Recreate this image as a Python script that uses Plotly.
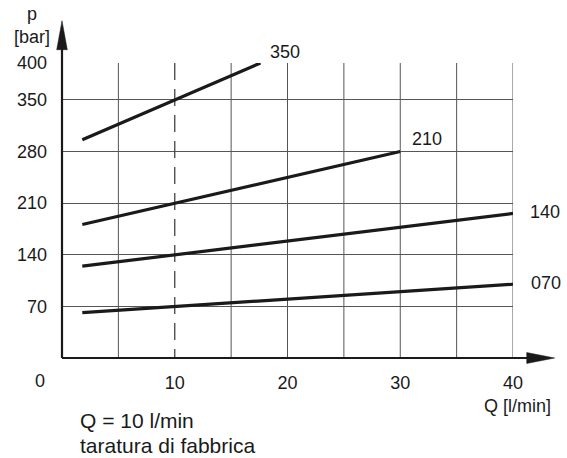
import plotly.graph_objects as go

# ---- data ----
SERIES_NAMES = ["070", "140", "210", "350"]
SERIES_Q = [[1.8, 40.0], [1.8, 40.0], [1.8, 30.0], [1.8, 17.6]]
SERIES_P = [[61.5, 100.0], [124.5, 196.0], [181.0, 280.0], [296.0, 400.0]]

SETTING_Q = 10          # factory setting flow (dashed line)
P_MAX = 400

Y_TICKS = [70, 140, 210, 280, 350, 400]
Y_TICK_TEXT = ["70", "140", "210", "280", "350", "400"]
X_TICKS = [10, 20, 30, 40]
X_TICK_TEXT = ["10", "20", "30", "40"]
X_GRID = [5, 15, 20, 25, 30, 35, 40]

NOTE_LINES = ["Q = 10 l/min", "taratura di fabbrica"]

# label offsets (pixels) per series
LABEL_SHIFT = {"070": (16, 1), "140": (15, 1), "210": (10, 13), "350": (8, 11)}

FONT = "Liberation Sans, Arial, sans-serif"
INK = "#1a1a1a"
GRID = "#555555"
FS = 18

fig = go.Figure()

# dashed factory-setting line
fig.add_trace(go.Scatter(x=[SETTING_Q, SETTING_Q], y=[P_MAX, 0], mode="lines",
                         line=dict(color="#444444", width=1.3, dash="17px,9px"),
                         hoverinfo="skip"))

for name, q, p in zip(SERIES_NAMES, SERIES_Q, SERIES_P):
    fig.add_trace(go.Scatter(x=q, y=p, mode="lines", name=name,
                             line=dict(color=INK, width=3.2)))
    dx, dy = LABEL_SHIFT[name]
    fig.add_annotation(x=q[-1], y=p[-1], text=name, showarrow=False,
                       xanchor="left", yanchor="middle", xshift=dx, yshift=dy,
                       font=dict(size=FS, color=INK, family=FONT))

shapes = []
for gx in X_GRID:
    shapes.append(dict(type="line", xref="x", yref="y", x0=gx, x1=gx, y0=0, y1=P_MAX,
                       line=dict(color=GRID, width=1), layer="below"))
# axes with arrows (paper coordinates)
shapes.append(dict(type="line", xref="paper", yref="paper", x0=0, x1=1.04, y0=0, y1=0,
                   line=dict(color=INK, width=2.2)))
shapes.append(dict(type="line", xref="paper", yref="paper", x0=0, x1=0, y0=0, y1=1.06,
                   line=dict(color=INK, width=2.2)))
shapes.append(dict(type="path", xref="paper", yref="paper",
                   path="M 1.0304,-0.0186 L 1.0925,0 L 1.0304,0.0186 Z",
                   fillcolor=INK, line=dict(color=INK, width=0.5)))
shapes.append(dict(type="path", xref="paper", yref="paper",
                   path="M -0.01175,1.045 L 0,1.1434 L 0.01175,1.045 Z",
                   fillcolor=INK, line=dict(color=INK, width=0.5)))

fig.update_layout(
    width=567, height=458, autosize=False,
    margin=dict(l=62, r=54, t=63, b=100),
    paper_bgcolor="white", plot_bgcolor="white",
    showlegend=False,
    font=dict(family=FONT, size=FS, color=INK),
    shapes=shapes,
    xaxis=dict(range=[0, 40], tickvals=X_TICKS, ticktext=X_TICK_TEXT,
               showgrid=False, zeroline=False, showline=False, ticks="",
               ticklabelstandoff=12, automargin=False,
               tickfont=dict(size=FS, family=FONT, color=INK)),
    yaxis=dict(range=[0, P_MAX], tickvals=Y_TICKS, ticktext=Y_TICK_TEXT,
               showgrid=True, gridcolor=GRID, gridwidth=1, zeroline=False,
               showline=False, ticks="", ticklabelstandoff=14, automargin=False,
               tickfont=dict(size=FS, family=FONT, color=INK)),
)

fig.add_annotation(xref="paper", yref="paper", x=-0.0672, y=1.127, text="p<br>[bar]",
                   showarrow=False, xanchor="center", yanchor="middle",
                   font=dict(size=FS, family=FONT, color=INK))
fig.add_annotation(xref="paper", yref="paper", x=1.011, y=-0.164, text="Q [l/min]",
                   showarrow=False, xanchor="center", yanchor="middle",
                   font=dict(size=FS, family=FONT, color=INK))
fig.add_annotation(xref="paper", yref="paper", x=-0.0479, y=-0.0793, text="0",
                   showarrow=False, xanchor="center", yanchor="middle",
                   font=dict(size=FS, family=FONT, color=INK))
for i, line in enumerate(NOTE_LINES):
    fig.add_annotation(xref="paper", yref="paper", x=0.0348,
                       y=-0.211 - i * 0.0847, text=line,
                       showarrow=False, xanchor="left", yanchor="middle", align="left",
                       font=dict(size=21, family=FONT, color=INK))

fig.write_html("out.html", config={"displayModeBar": False},
               post_script="document.body.style.margin='0';document.body.style.overflow='hidden';")
